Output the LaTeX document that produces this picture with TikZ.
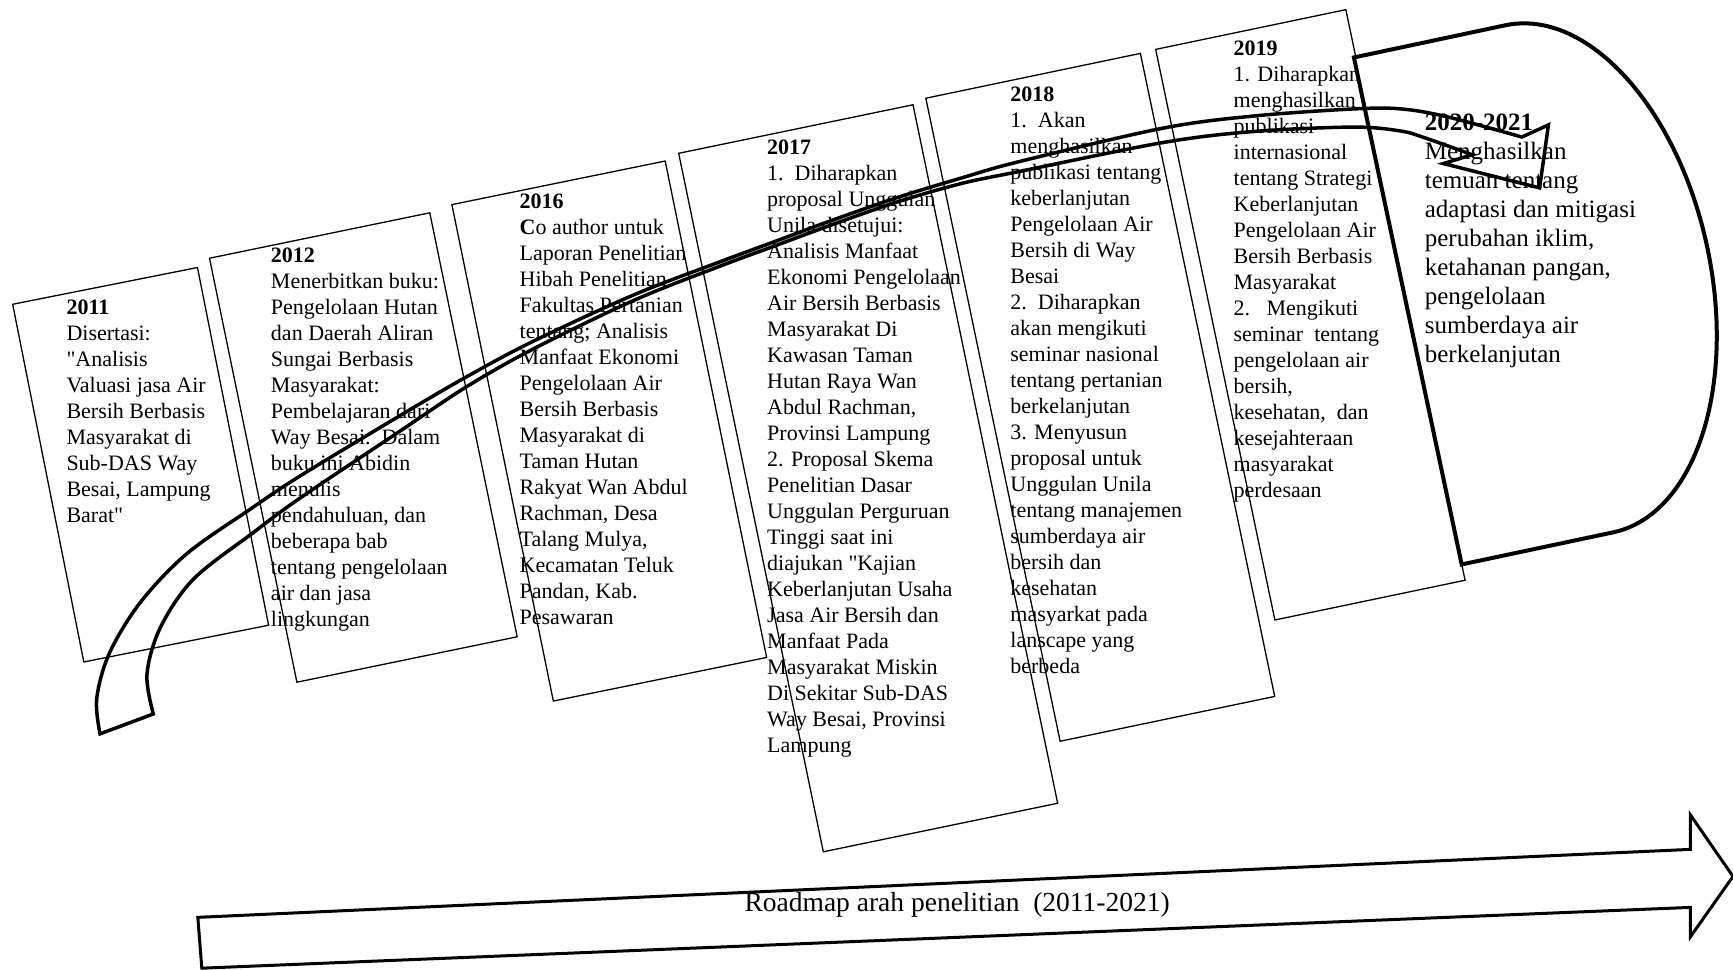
\documentclass[tikz,border=0pt]{standalone}
\usepackage{fontspec}
\setmainfont{Liberation Serif}[Ligatures=TeXOff]
\tikzset{
  yearbox/.style={draw, fill=white, line width=1.3pt, inner sep=0pt, outer sep=0pt},
  txt/.style={anchor=north west, align=left, inner sep=0pt, font=\fontsize{22}{26}\selectfont},
  bigtxt/.style={anchor=north west, align=left, inner sep=0pt, font=\fontsize{25}{29}\selectfont},
  band/.style={draw, line width=3.5pt, line join=miter},
  dshape/.style={draw, fill=white, line width=4pt, line join=miter},
  roadarrow/.style={draw, fill=white, line width=3pt, line join=miter},
  roadtxt/.style={font=\fontsize{27.5}{30}\selectfont, inner sep=0pt}
}
\begin{document}
\begin{tikzpicture}[x=1.1052pt, y=-1.1052pt]
\useasboundingbox (0,0) rectangle (1568,877);

% 2011
\node[yearbox, rotate=11.25, minimum width=188.4pt, minimum height=364.7pt] (b2011) at (127.25,420.5) {};
\node[txt] (t2011) at (60,271) {\textbf{2011}\\Disertasi:\\"Analisis\\Valuasi jasa Air\\Bersih Berbasis\\Masyarakat di\\Sub-DAS Way\\Besai, Lampung\\Barat"};

% 2012
\node[yearbox, rotate=11.65, minimum width=224.9pt, minimum height=432.9pt] (b2012) at (328.75,404.9) {};
\node[txt] (t2012) at (245,224) {\textbf{2012}\\Menerbitkan buku:\\Pengelolaan Hutan\\dan Daerah Aliran\\Sungai Berbasis\\Masyarakat:\\Pembelajaran dari\\Way Besai.\ \ Dalam\\buku ini Abidin\\menulis\\pendahuluan, dan\\beberapa bab\\tentang pengelolaan\\air dan jasa\\lingkungan};

% 2016
\node[yearbox, rotate=11.55, minimum width=217.7pt, minimum height=506.7pt] (b2016) at (551.25,390) {};
\node[txt] (t2016) at (470,175) {\textbf{2016}\\\textbf{C}o author untuk\\Laporan Penelitian\\Hibah Penelitian\\Fakultas Pertanian\\tentang; Analisis\\Manfaat Ekonomi\\Pengelolaan Air\\Bersih Berbasis\\Masyarakat di\\Taman Hutan\\Rakyat Wan Abdul\\Rachman, Desa\\Talang Mulya,\\Kecamatan Teluk\\Pandan, Kab.\\Pesawaran};

% 2017
\node[yearbox, rotate=11.7, minimum width=239.3pt, minimum height=713.3pt] (b2017) at (785.5,432.75) {};
\node[txt] (t2017) at (694,126) {\textbf{2017}\\1.\ \ Diharapkan\\proposal Unggulan\\Unila disetujui:\\Analisis Manfaat\\Ekonomi Pengelolaan\\Air Bersih Berbasis\\Masyarakat Di\\Kawasan Taman\\Hutan Raya Wan\\Abdul Rachman,\\Provinsi Lampung\\2. Proposal Skema\\Penelitian Dasar\\Unggulan Perguruan\\Tinggi saat ini\\diajukan "Kajian\\Keberlanjutan Usaha\\Jasa Air Bersih dan\\Manfaat Pada\\Masyarakat Miskin\\Di Sekitar Sub-DAS\\Way Besai, Provinsi\\Lampung};

% 2018
\node[yearbox, rotate=11.8, minimum width=219.2pt, minimum height=656.9pt] (b2018) at (995.5,359.5) {};
\node[txt] (t2018) at (914,78) {\textbf{2018}\\1.\ \ Akan\\menghasilkan\\publikasi tentang\\keberlanjutan\\Pengelolaan Air\\Bersih di Way\\Besai\\2.\ \ Diharapkan\\akan mengikuti\\seminar nasional\\tentang pertanian\\berkelanjutan\\3. Menyusun\\proposal untuk\\Unggulan Unila\\tentang manajemen\\sumberdaya air\\bersih dan\\kesehatan\\masyarkat pada\\lanscape yang\\berbeda};

% 2019
\node[yearbox, rotate=11.8, minimum width=194.3pt, minimum height=582.9pt] (b2019) at (1185.6,284.85) {};
\node[txt] (t2019) at (1116,37) {\textbf{2019}\\1. Diharapkan\\menghasilkan\\publikasi\\internasional\\tentang Strategi\\Keberlanjutan\\Pengelolaan Air\\Bersih Berbasis\\Masyarakat\\2.\ \ \ Mengikuti\\seminar\ \ tentang\\pengelolaan air\\bersih,\\kesehatan,\ \ dan\\kesejahteraan\\masyarakat\\perdesaan};

% 2020-2021 (delay shape)
\draw[dshape] (1225,52) coordinate (dTL) -- (1361.9,22.9) coordinate (dA)
  .. controls (1435.9,7.2) and (1517.8,97.1) .. (1544.7,223.8) coordinate (dM)
  .. controls (1571.6,350.5) and (1533.4,466) .. (1459.4,481.7) coordinate (dB)
  -- (1322.5,510.7) coordinate (dBL) -- cycle;
\node[bigtxt] (t2020) at (1289,102.5) {\textbf{2020-2021}\\Menghasilkan\\temuan tentang\\adaptasi dan mitigasi\\perubahan iklim,\\ketahanan pangan,\\pengelolaan\\sumberdaya air\\berkelanjutan};

% curved block arrow
\coordinate (hJ1) at (1377,124);
\coordinate (hB1) at (1401,113);
\coordinate (hT) at (1393,170);
\coordinate (hB2) at (1306,148);
\coordinate (hJ2) at (1332,140);
\draw[band] plot[smooth, tension=0.55] coordinates {(90.5,664) (87.5,632) (99,591) (127,545) (169,501) (226,461) (271,431) (362,376) (422,341) (482,309) (573,267) (651,237) (697,220) (751,200) (811,179) (870,161) (923,146) (1052,116) (1134,105) (1224,98.6) (1267,98.5) (1309,105.6) (1377,124)}
  -- (hB1) -- (hT) -- (hB2) -- (hJ2)
  -- plot[smooth, tension=0.55] coordinates {(1332,140) (1290,125) (1267,118.5) (1224,115) (1134,119) (1052,129) (923,155) (870,166) (811,183) (751,204) (697,224) (651,241) (573,272) (482,316) (422,350) (362,390) (271,451) (229,482) (175,524) (145,568) (133,610) (138.7,646)}
  -- cycle;

% roadmap arrow
\draw[roadarrow] (179,830) coordinate (rA) -- (1529.5,768.5) -- (1529.5,737.4) -- (1568,793) coordinate (rTip) -- (1529.5,847.5) -- (1529.5,821) -- (182.6,876) -- cycle;
\node[roadtxt] (road) at (866,819) {Roadmap arah penelitian\ \ (2011-2021)};
\end{tikzpicture}
\end{document}
